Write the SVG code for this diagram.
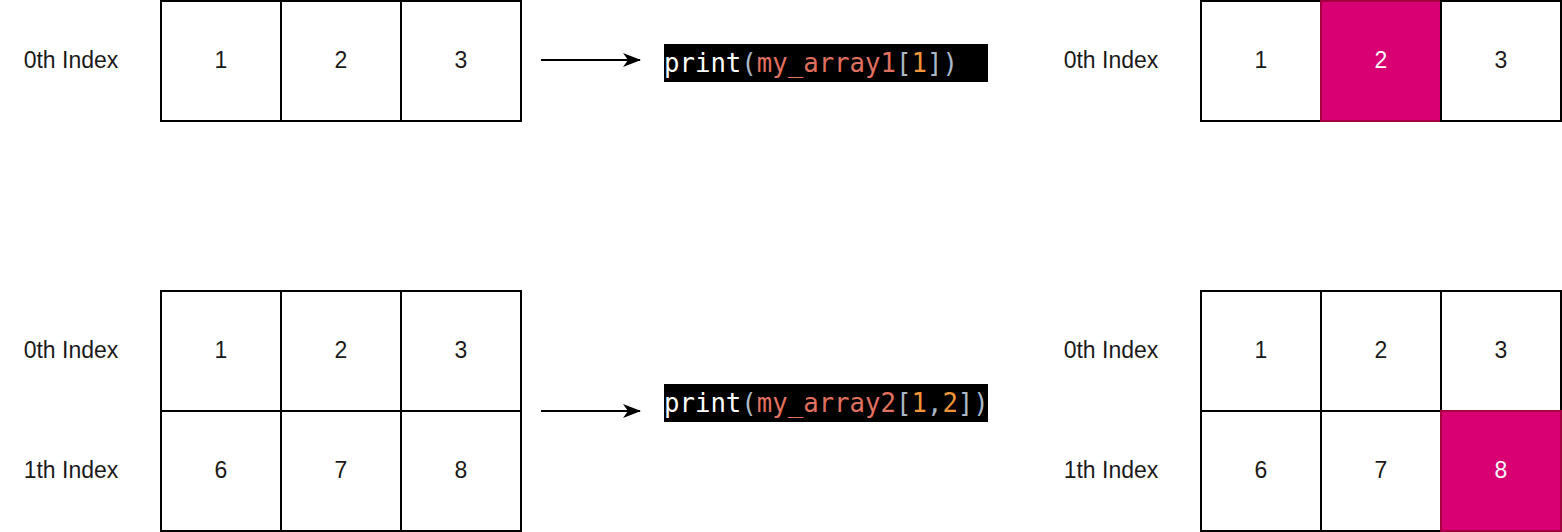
<svg xmlns="http://www.w3.org/2000/svg" width="1562" height="532" viewBox="0 0 1562 532">
<style>
.cell{fill:#fff;stroke:#000;stroke-width:2}
.hl{fill:#d80073;stroke:#a50040;stroke-width:2}
.t{font-family:"Liberation Sans",Arial,sans-serif;font-size:23px;fill:#1a1a1a;text-anchor:middle;dominant-baseline:central}
.tw{fill:#fff}
.code{font-family:"DejaVu Sans Mono","Liberation Mono",monospace;font-size:25.7px}
.w{fill:#fff}.g{fill:#a9b7c6}.r{fill:#e0705f}.o{fill:#f0953a}
.conn{stroke:#000;stroke-width:2;fill:none}
</style>
<defs>
<marker id="arr" viewBox="0 0 18 14" refX="17" refY="7" markerWidth="18" markerHeight="14" markerUnits="userSpaceOnUse" orient="auto">
<path d="M0,0 L18,7 L0,14 L5,7 Z" fill="#000"/>
</marker>
</defs>
<rect width="1562" height="532" fill="#fff"/>

<g id="label-top-left"><text class="t" x="71" y="60">0th Index</text></g>
<g id="grid1">
<rect class="cell" x="161" y="1" width="120" height="120"/><text class="t" x="221" y="60">1</text>
<rect class="cell" x="281" y="1" width="120" height="120"/><text class="t" x="341" y="60">2</text>
<rect class="cell" x="401" y="1" width="120" height="120"/><text class="t" x="461" y="60">3</text>
</g>

<g id="code1">
<rect x="664" y="44" width="324" height="38" fill="#000"/>
<text class="code" x="664" y="72"><tspan class="w">print</tspan><tspan class="g">(</tspan><tspan class="r">my_array1</tspan><tspan class="g">[</tspan><tspan class="o">1</tspan><tspan class="g">])</tspan></text>
</g>

<g id="label-top-right"><text class="t" x="1111" y="60">0th Index</text></g>
<g id="grid1-result">
<rect class="cell" x="1201" y="1" width="120" height="120"/><text class="t" x="1261" y="60">1</text>
<rect class="hl" x="1321" y="1" width="120" height="120"/><text class="t tw" x="1381" y="60">2</text>
<rect class="cell" x="1441" y="1" width="120" height="120"/><text class="t" x="1501" y="60">3</text>
</g>

<g id="labels-bottom-left">
<text class="t" x="71" y="350">0th Index</text>
<text class="t" x="71" y="470">1th Index</text>
</g>
<g id="grid2">
<rect class="cell" x="161" y="291" width="120" height="120"/><text class="t" x="221" y="350">1</text>
<rect class="cell" x="281" y="291" width="120" height="120"/><text class="t" x="341" y="350">2</text>
<rect class="cell" x="401" y="291" width="120" height="120"/><text class="t" x="461" y="350">3</text>
<rect class="cell" x="161" y="411" width="120" height="120"/><text class="t" x="221" y="470">6</text>
<rect class="cell" x="281" y="411" width="120" height="120"/><text class="t" x="341" y="470">7</text>
<rect class="cell" x="401" y="411" width="120" height="120"/><text class="t" x="461" y="470">8</text>
</g>

<g id="code2">
<rect x="664" y="384" width="324" height="38" fill="#000"/>
<text class="code" x="664" y="412"><tspan class="w">print</tspan><tspan class="g">(</tspan><tspan class="r">my_array2</tspan><tspan class="g">[</tspan><tspan class="o">1</tspan><tspan class="g">,</tspan><tspan class="o">2</tspan><tspan class="g">])</tspan></text>
</g>

<g id="labels-bottom-right">
<text class="t" x="1111" y="350">0th Index</text>
<text class="t" x="1111" y="470">1th Index</text>
</g>
<g id="grid2-result">
<rect class="cell" x="1201" y="291" width="120" height="120"/><text class="t" x="1261" y="350">1</text>
<rect class="cell" x="1321" y="291" width="120" height="120"/><text class="t" x="1381" y="350">2</text>
<rect class="cell" x="1441" y="291" width="120" height="120"/><text class="t" x="1501" y="350">3</text>
<rect class="cell" x="1201" y="411" width="120" height="120"/><text class="t" x="1261" y="470">6</text>
<rect class="cell" x="1321" y="411" width="120" height="120"/><text class="t" x="1381" y="470">7</text>
<rect class="hl" x="1441" y="411" width="120" height="120"/><text class="t tw" x="1501" y="470">8</text>
</g>

<g id="connectors">
<line class="conn" x1="541" y1="60" x2="640" y2="60" marker-end="url(#arr)"/>
<line class="conn" x1="541" y1="411" x2="640" y2="411" marker-end="url(#arr)"/>
</g>
</svg>
